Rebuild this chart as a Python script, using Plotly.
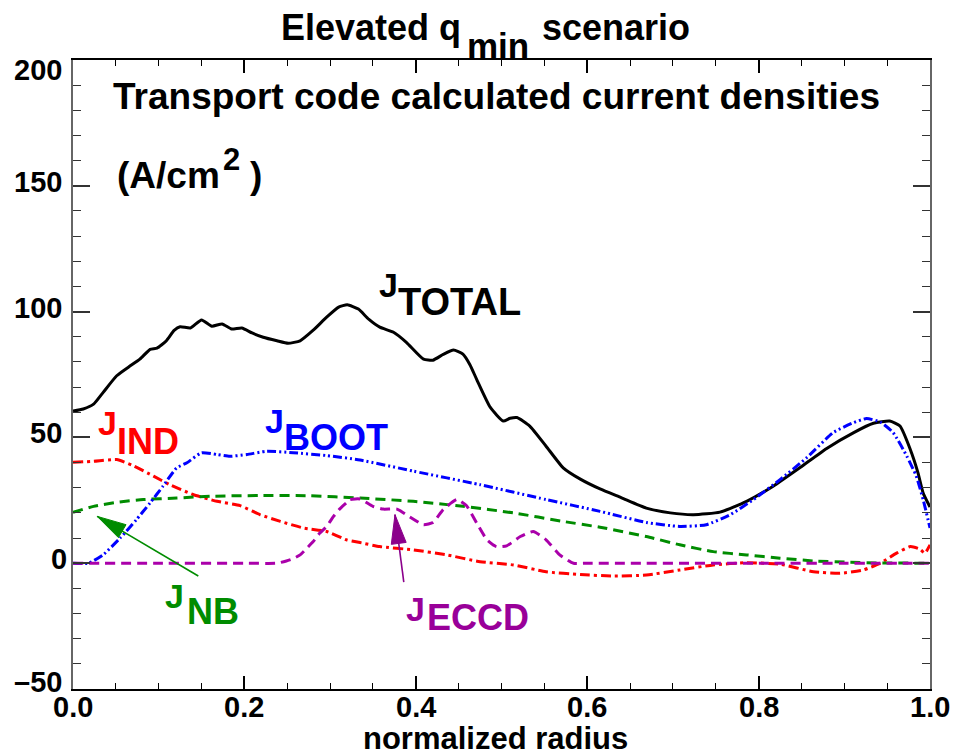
import math
import plotly.graph_objects as go

# Current density profiles (A/cm^2) versus normalized radius
rho_total = [0, 0.012, 0.024, 0.035, 0.051, 0.065, 0.078, 0.09, 0.098, 0.109, 0.118, 0.125,
             0.137, 0.150, 0.162, 0.174, 0.185, 0.197, 0.209, 0.222, 0.238, 0.251, 0.265,
             0.280, 0.296, 0.310, 0.320, 0.333, 0.345, 0.358, 0.374, 0.389, 0.409, 0.420,
             0.432, 0.444, 0.455, 0.463, 0.471, 0.487, 0.502, 0.510, 0.518, 0.533, 0.552,
             0.572, 0.592, 0.615, 0.640, 0.669, 0.697, 0.724, 0.755, 0.786, 0.817, 0.848,
             0.879, 0.911, 0.934, 0.953, 0.965, 0.977, 0.986, 0.992, 1.0]
j_total = [60.5, 61.3, 63.2, 67.8, 74.5, 78.0, 81.1, 85.0, 85.5, 88.4, 92.5, 94.0,
           93.5, 96.7, 94.2, 95.1, 93.1, 93.5, 91.5, 89.8, 88.4, 87.4, 88.4,
           92.5, 97.8, 101.8, 102.7, 101.0, 97.0, 93.8, 91.8, 87.8, 81.1, 80.7,
           83.0, 84.7, 83.1, 79.0, 73.1, 61.9, 56.5, 57.6, 57.9, 54.5, 46.5,
           37.9, 33.4, 29.5, 26.0, 21.9, 20.0, 19.3, 20.3, 24.6, 30.6, 37.9,
           45.5, 51.9, 55.6, 56.5, 54.5, 45.2, 35.9, 27.9, 22.3]

rho_boot = [0, 0.018, 0.035, 0.055, 0.074, 0.09, 0.105, 0.121, 0.133, 0.150, 0.168, 0.183,
            0.203, 0.226, 0.257, 0.296, 0.335, 0.397, 0.475, 0.552, 0.615, 0.669, 0.708,
            0.739, 0.767, 0.794, 0.825, 0.856, 0.887, 0.911, 0.926, 0.942, 0.957, 0.973,
            0.984, 0.992, 1.0]
j_boot = [0, 0, 3.3, 10.0, 17.3, 24.0, 30.6, 37.9, 39.9, 43.9, 43.2, 42.5,
          43.2, 44.5, 43.9, 42.8, 41.0, 36.6, 31.2, 25.3, 20.6, 16.2, 14.6,
          15.3, 19.3, 25.3, 33.2, 41.9, 51.9, 55.9, 57.5, 56.1, 51.9, 42.5,
          34.6, 25.3, 14.0]

rho_ind = [0, 0.024, 0.051, 0.070, 0.094, 0.113, 0.140, 0.168, 0.195, 0.218, 0.242, 0.269,
           0.296, 0.319, 0.335, 0.358, 0.397, 0.436, 0.475, 0.514, 0.552, 0.592, 0.630,
           0.669, 0.708, 0.747, 0.786, 0.825, 0.864, 0.895, 0.922, 0.942, 0.961, 0.977,
           0.988, 0.994, 1.0]
j_ind = [40.1, 40.5, 41.2, 38.8, 34.6, 31.2, 27.3, 24.6, 22.9, 19.3, 16.6, 14.0,
         12.6, 9.3, 8.2, 6.6, 5.3, 3.3, 0.6, -0.7, -3.4, -4.5, -5.1,
         -4.7, -2.7, -0.7, 0.2, -0.4, -3.4, -4.0, -2.7, 0.0, 4.0, 6.6,
         5.6, 4.0, 7.3]

rho_nb = [0, 0.024, 0.051, 0.082, 0.121, 0.160, 0.218, 0.276, 0.335, 0.397, 0.455, 0.514,
          0.572, 0.615, 0.669, 0.708, 0.747, 0.786, 0.825, 0.864, 0.903, 0.942, 1.0]
j_nb = [20.2, 22.6, 24.2, 25.3, 25.9, 26.6, 26.9, 26.8, 25.9, 24.6, 22.6, 20.0,
        16.6, 14.3, 10.6, 7.3, 4.6, 3.3, 2.0, 0.9, 0.4, 0.1, 0.0]

rho_eccd = [0, 0.1, 0.2, 0.238, 0.249, 0.257, 0.265, 0.273, 0.280, 0.288, 0.296, 0.304,
            0.311, 0.319, 0.323, 0.335, 0.350, 0.362, 0.378, 0.393, 0.409, 0.420, 0.432,
            0.448, 0.459, 0.471, 0.483, 0.494, 0.506, 0.522, 0.537, 0.552, 0.568, 0.584,
            0.6, 0.8, 1.0]
j_eccd = [0, 0, 0, 0, 0.9, 1.8, 3.3, 6.0, 8.5, 12.0, 14.6, 18.6,
          21.5, 24.0, 25.3, 25.5, 22.6, 21.5, 21.5, 18.4, 15.3, 16.2, 21.3,
          25.3, 22.9, 16.0, 9.3, 6.6, 6.9, 10.6, 12.6, 9.3, 3.3, 0.0,
          0.0, 0.0, 0.0]

x_ticks = [0.0, 0.2, 0.4, 0.6, 0.8, 1.0]
y_ticks = [-50, 0, 50, 100, 150, 200]
y_tick_text = ["\u201350", "0", "50", "100", "150", "200"]

FONT = "Liberation Sans, Arial, Helvetica, sans-serif"
W, H = 960, 751
ML, MR, MT, MB = 73, 30, 60, 62
PW, PH = W - ML - MR, H - MT - MB
XR, YR = [0, 1], [-50, 200]

RED, BLUE, GREEN, PURPLE, PURPLE_TXT = "#ff0000", "#0000ff", "#008c00", "#aa00aa", "#990099"


def px(xd, yd):
    """Data coordinates -> page pixels."""
    return (ML + (xd - XR[0]) / (XR[1] - XR[0]) * PW,
            MT + (YR[1] - yd) / (YR[1] - YR[0]) * PH)


def paper_x(p):
    return (p - ML) / PW


def paper_y(p):
    return (H - MB - p) / PH


fig = go.Figure()


def curve(x, y, color, dash, width=3):
    fig.add_trace(go.Scatter(x=x, y=y, mode="lines",
                             line=dict(color=color, width=width, dash=dash,
                                       shape="spline", smoothing=0.5),
                             hoverinfo="skip", showlegend=False))


curve(rho_total, j_total, "black", "solid")
curve(rho_ind, j_ind, RED, "10px,4px,3px,4px")
curve(rho_nb, j_nb, GREEN, "10px,6px")
curve(rho_boot, j_boot, BLUE, "9px,3px,2px,3px,2px,3px")
curve(rho_eccd, j_eccd, PURPLE, "10px,6px")

annotations = []


def text(s, xp, yp, size, color="black", anchor="left"):
    annotations.append(dict(text=s, x=paper_x(xp), y=paper_y(yp), xref="paper", yref="paper",
                            xanchor=anchor, yanchor="middle", showarrow=False,
                            font=dict(family=FONT, size=size, color=color, weight="bold")))


# title with subscripted q_min
text("Elevated q", 463, 27, 36, anchor="right")
text("min", 465, 46, 35)
text("scenario", 540, 27, 36)

text("Transport code calculated current densities", 111, 96, 37)
text("(A/cm", 115, 175, 37)
text("2", 221, 159, 31)
text(")", 248, 175, 37)

# curve labels: J with subscripts
for (jx, jy, sub, sx, sy, col, fs) in [
        (388, 285, "TOTAL", 396, 302, "black", 38),
        (107, 423, "IND", 115, 442, RED, 36),
        (274, 421, "BOOT", 282, 438, BLUE, 36),
        (174, 596, "NB", 185, 611, GREEN, 36),
        (415, 609, "ECCD", 425, 617, PURPLE_TXT, 36)]:
    text("J", jx, jy, 34, col, anchor="center")
    text(sub, sx, sy, fs, col)

tick_font = dict(family=FONT, size=29, color="black", weight="bold")

# x tick labels, just below the frame
for v in x_ticks:
    annotations.append(dict(text=f"{v:.1f}", x=v, y=paper_y(707), xref="x", yref="paper",
                            xanchor="center", yanchor="middle", showarrow=False,
                            font=tick_font))

# y tick labels; the end labels are nudged inward so they stay clear of the corners
for v, s in zip(y_ticks, y_tick_text):
    shift = 4
    if v == YR[1]:
        shift = -10
    elif v == YR[0]:
        shift = 7
    annotations.append(dict(text=s, x=paper_x(64 if s != "0" else 69), y=v,
                            xref="paper", yref="y", yshift=shift,
                            xanchor="right", yanchor="middle", showarrow=False,
                            font=tick_font))

text("normalized radius", 495, 738, 31, anchor="center")

shapes = []


def arrow(tip, tail, color):
    shapes.append(dict(type="line", xref="x", yref="y", x0=tail[0], y0=tail[1],
                       x1=tip[0], y1=tip[1], line=dict(color=color, width=1.6)))
    tx, ty = px(*tip)
    sx, sy = px(*tail)
    dx, dy = sx - tx, sy - ty
    n = math.hypot(dx, dy)
    ux, uy = dx / n, dy / n
    length, half = 29, 7.5
    pts = [(0, 0), (ux * length - uy * half, uy * length + ux * half),
           (ux * length + uy * half, uy * length - ux * half)]
    path = "M " + " L ".join(f"{a:.2f},{-b:.2f}" for a, b in pts) + " Z"
    shapes.append(dict(type="path", xref="x", yref="y", xsizemode="pixel", ysizemode="pixel",
                       xanchor=tip[0], yanchor=tip[1], path=path,
                       fillcolor=color, line=dict(color=color, width=1)))


arrow((0.0283, 18.6), (0.1462, -5.1), GREEN)
arrow((0.3757, 19.3), (0.386, -7.5), "#8b008b")

fig.update_layout(
    width=W, height=H,
    margin=dict(l=ML, r=MR, t=MT, b=MB),
    paper_bgcolor="white", plot_bgcolor="white",
    showlegend=False,
    annotations=annotations,
    shapes=shapes,
    xaxis=dict(range=XR, tickvals=x_ticks, showticklabels=False, showgrid=False, zeroline=False,
               showline=True, linecolor="black", linewidth=2, mirror="ticks",
               ticks="inside", ticklen=13, tickwidth=1.5, tickcolor="black",
               minor=dict(dtick=0.05, ticks="inside", ticklen=6, tickwidth=1.2,
                          tickcolor="black", showgrid=False)),
    yaxis=dict(range=YR, tickvals=y_ticks, showticklabels=False, showgrid=False, zeroline=False,
               showline=True, linecolor="#666666", linewidth=2, mirror="ticks",
               ticks="inside", ticklen=17, tickwidth=1.5, tickcolor="#333333",
               minor=dict(dtick=10, ticks="inside", ticklen=8, tickwidth=1.2,
                          tickcolor="#333333", showgrid=False)),
)

fig.write_html("out.html")
